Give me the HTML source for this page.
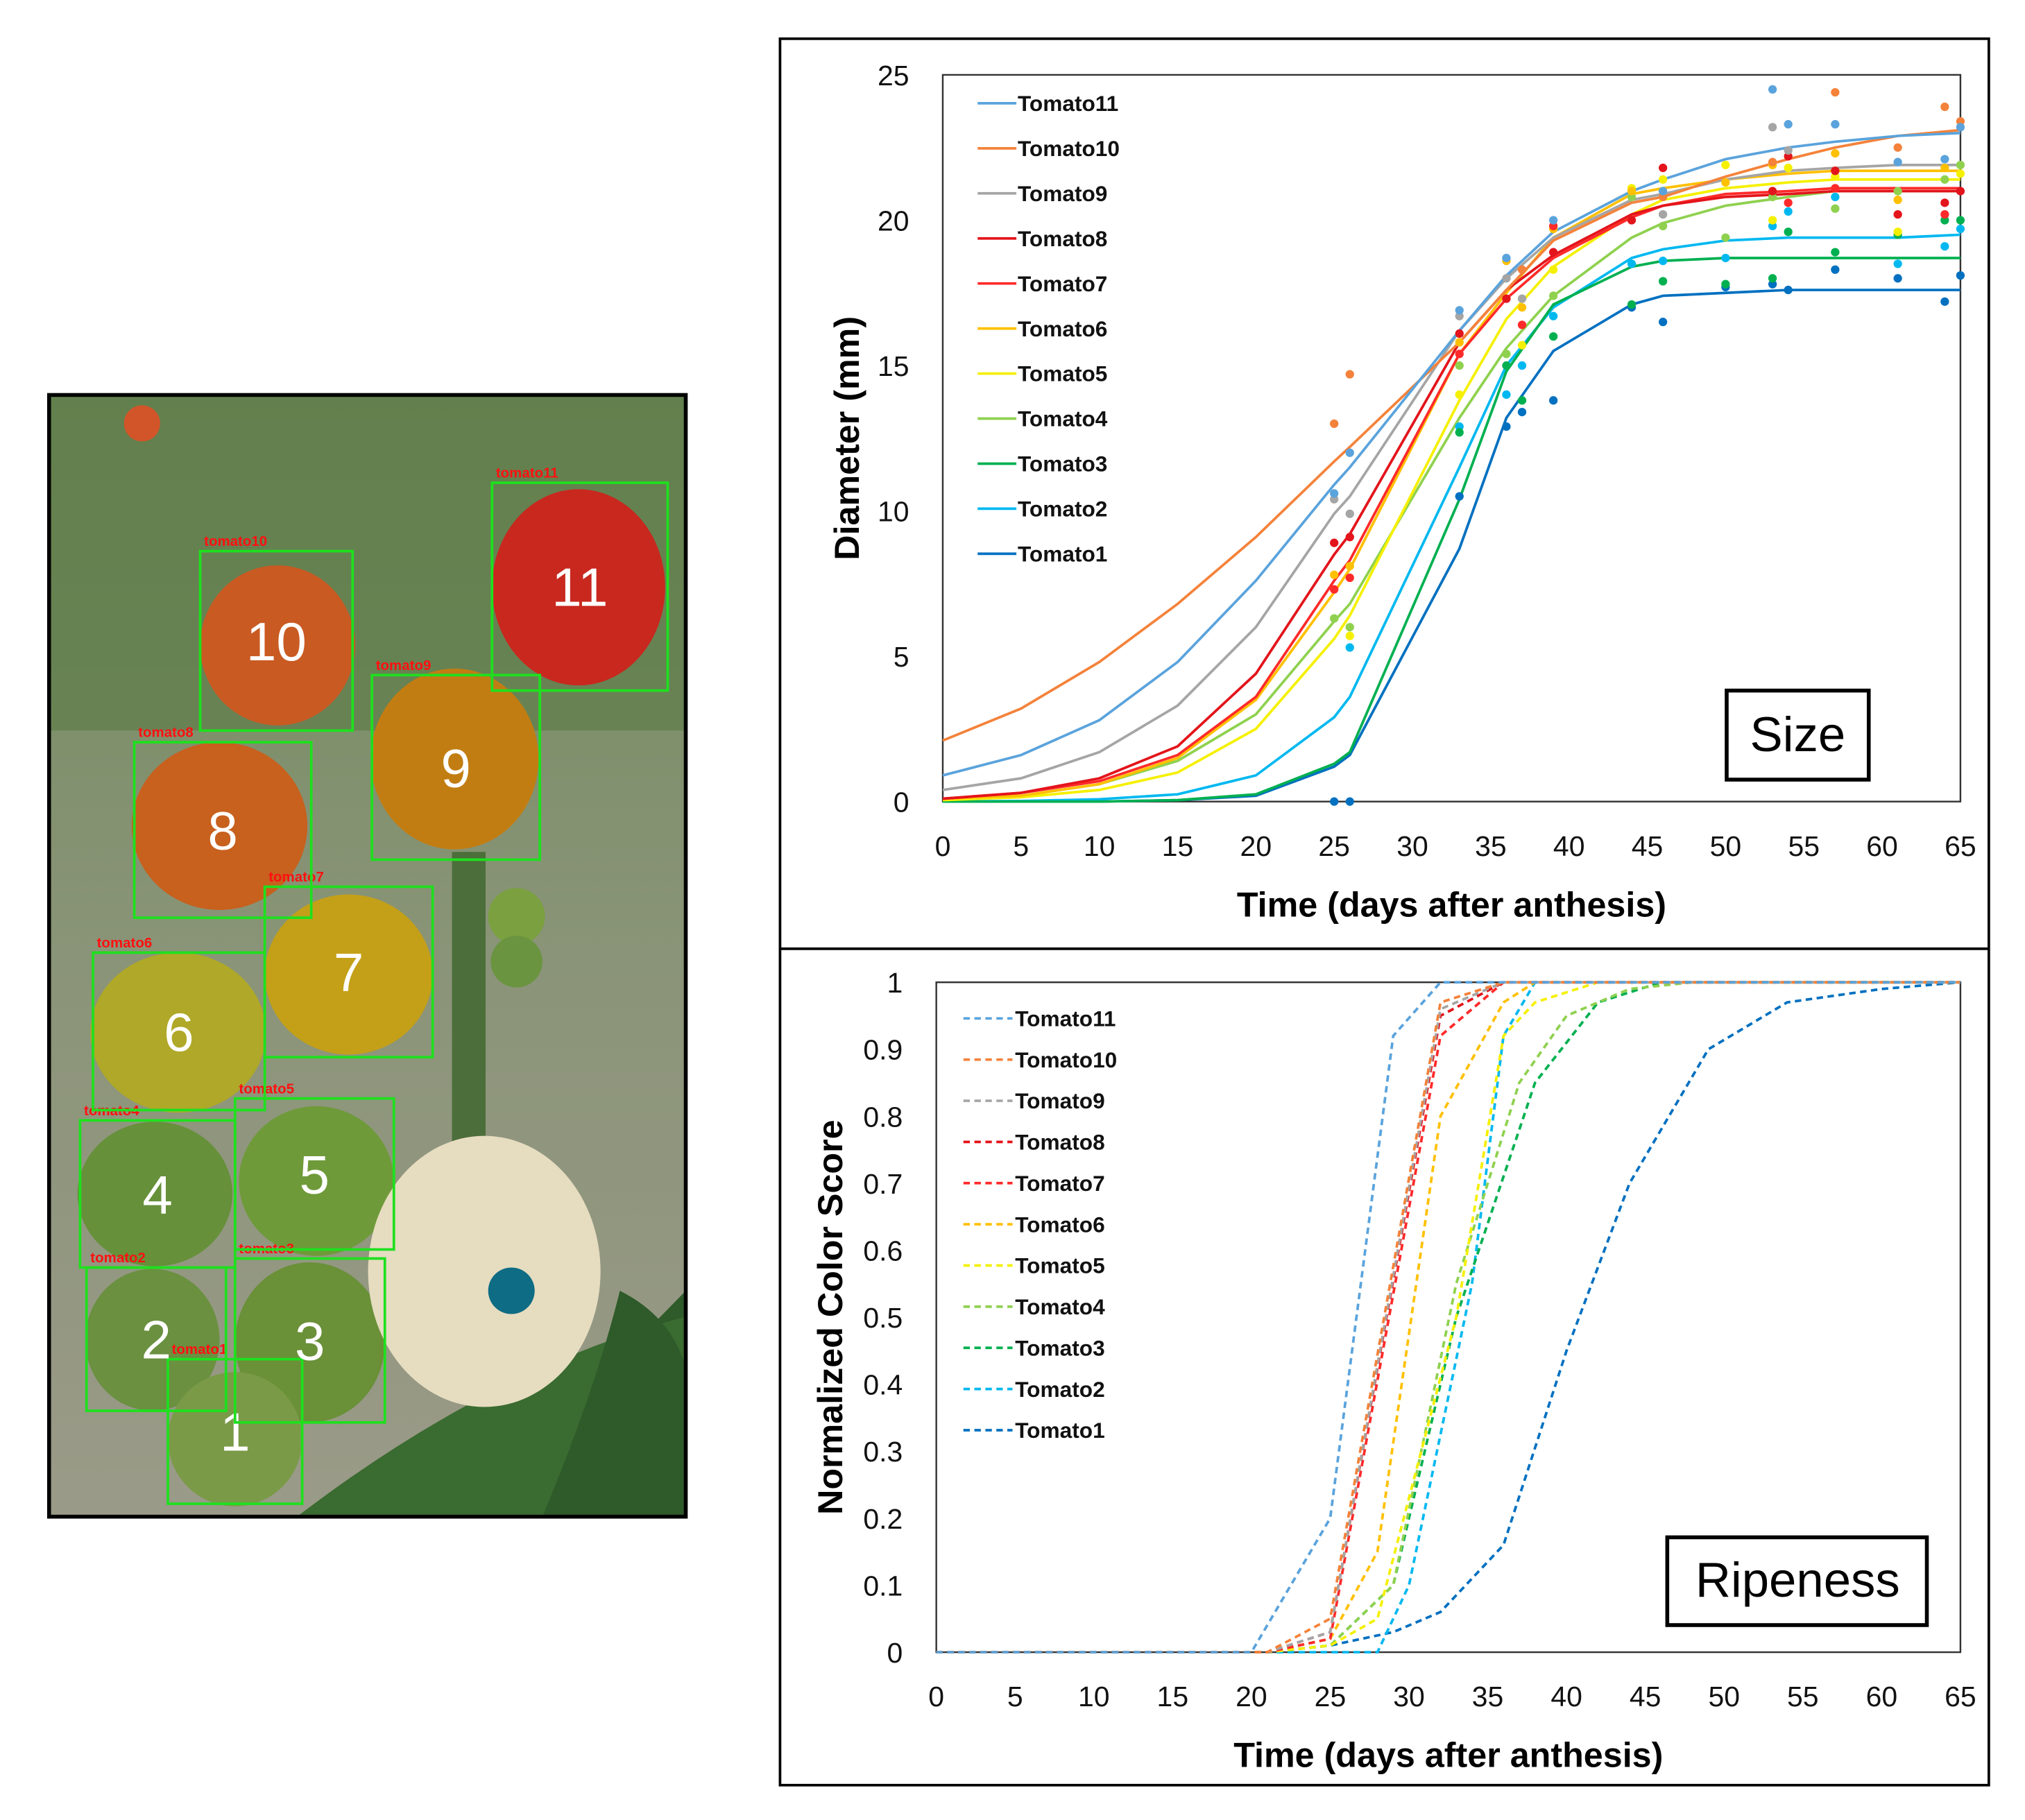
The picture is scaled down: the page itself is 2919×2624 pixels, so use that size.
<!DOCTYPE html>
<html><head><meta charset="utf-8"><style>
html,body{margin:0;padding:0;background:#fff;}
svg{display:block;font-family:"Liberation Sans",sans-serif;}
</style></head><body>
<svg id="fig" width="2919" height="2624" viewBox="0 0 1568 1410" preserveAspectRatio="none" xmlns="http://www.w3.org/2000/svg">
<defs>
<linearGradient id="bg" x1="0" y1="0" x2="0" y2="1">
<stop offset="0" stop-color="#6f8a5a"/><stop offset="0.5" stop-color="#8a9478"/><stop offset="1" stop-color="#9a9a88"/>
</linearGradient>
<clipPath id="photoclip"><rect x="38" y="306" width="493" height="869"/></clipPath>
</defs>
<g id="photo" clip-path="url(#photoclip)">
<rect x="38" y="306" width="493" height="869" fill="url(#bg)"/>
<rect x="38" y="306" width="493" height="260" fill="#5a7a45" opacity="0.6"/>
<path d="M360 1175 L531 1000 L531 1175 Z" fill="#2f5a2a"/>
<path d="M230 1175 Q380 1060 531 1020 L531 1175 Z" fill="#3a6b30"/>
<rect x="350" y="660" width="26" height="280" fill="#4c6e3a"/>
<circle cx="110" cy="328" r="14" fill="#d2552a"/>
<ellipse cx="448" cy="455" rx="67" ry="76" fill="#c8281e"/>
<ellipse cx="215" cy="500" rx="60" ry="62" fill="#c95a22"/>
<ellipse cx="352" cy="588" rx="65" ry="70" fill="#c27d12"/>
<ellipse cx="170" cy="640" rx="68" ry="65" fill="#c8601e"/>
<ellipse cx="270" cy="755" rx="65" ry="62" fill="#c4a018"/>
<ellipse cx="138" cy="800" rx="68" ry="62" fill="#b0a828"/>
<ellipse cx="245" cy="915" rx="60" ry="58" fill="#6f9a3a"/>
<ellipse cx="120" cy="925" rx="60" ry="56" fill="#66903a"/>
<ellipse cx="240" cy="1040" rx="58" ry="62" fill="#6a9038"/>
<ellipse cx="118" cy="1038" rx="52" ry="55" fill="#6a9040"/>
<ellipse cx="182" cy="1115" rx="52" ry="52" fill="#7a9a48"/>
<ellipse cx="400" cy="710" rx="22" ry="22" fill="#7aa040"/>
<ellipse cx="400" cy="745" rx="20" ry="20" fill="#6a9440"/>
<ellipse cx="375" cy="985" rx="90" ry="105" fill="#e6dcc0"/>
<circle cx="396" cy="1000" r="18" fill="#0e6c84"/>
<path d="M480 1000 Q520 1020 531 1060 L531 1175 L420 1175 Q460 1080 480 1000Z" fill="#2f5a2a"/>
</g>
<rect x="38" y="306" width="493" height="869" fill="none" stroke="#000" stroke-width="3"/>
<g id="boxes"></g>
<rect x="604" y="30" width="936" height="1353" fill="none" stroke="#000" stroke-width="2"/>
<line x1="604" y1="735" x2="1540" y2="735" stroke="#000" stroke-width="2"/>
<g id="size"></g>
<g id="ripe"></g>
</svg>
<script>
const NS="http://www.w3.org/2000/svg";
function mk(parent,tag,attrs,text){const e=document.createElementNS(NS,tag);for(const k in attrs)e.setAttribute(k,attrs[k]);if(text!==undefined)e.textContent=text;parent.appendChild(e);return e;}

const boxLabels=["1","2","3","4","5","6","7","8","9","10","11"];
const boxRects=[[130,1053,104,112],[67,982,108,111],[182,975,116,127],[62,868,120,114],[182,851,123,117],[72,738,133,122],[205,687,130,132],[104,575,137,136],[288,523,130,143],[155,427,118,139],[381,374,136,161]];
const bx=document.getElementById('boxes');
boxRects.forEach((r,i)=>{
 const rc=mk(bx,'rect',{x:r[0],y:r[1],width:r[2],height:r[3],fill:'none',stroke:'#1ee01e','stroke-width':2});
 
 
 const t=mk(bx,'text',{x:r[0]+r[2]/2,y:r[1]+r[3]/2+15,'text-anchor':'middle','font-size':42,fill:'#fff'},boxLabels[i]);
 
 
 const l=mk(bx,'text',{x:r[0]+3,y:r[1]-4,'font-size':11,'font-weight':'bold',fill:'#ff1010'},'tomato'+boxLabels[i]);
 
 
});

const names=["Tomato11","Tomato10","Tomato9","Tomato8","Tomato7","Tomato6","Tomato5","Tomato4","Tomato3","Tomato2","Tomato1"];
const colors=["#5aa3dc","#f4823a","#a5a5a5","#e3141b","#ff2a2a","#ffc000","#f5f000","#8fd14f","#00b050","#00b8f0","#0070c0"];
const xTicks=[0,5,10,15,20,25,30,35,40,45,50,55,60,65];

const sizeX=[0,5,10,15,20,25,26,33,36,39,44,46,50,54,57,61,65];
const size11=[0.9,1.6,2.8,4.8,7.6,10.9,11.5,16.2,18.1,19.6,21,21.4,22.1,22.5,22.7,22.9,23];
const size10=[2.1,3.2,4.8,6.8,9.1,11.7,12.2,15.8,17.6,19.3,20.6,20.8,21.5,22.1,22.5,22.9,23.1];
const size9=[0.4,0.8,1.7,3.3,6.0,9.9,10.5,16.2,18.0,19.4,20.7,20.9,21.4,21.7,21.8,21.9,21.9];
const size8=[0.1,0.3,0.8,1.9,4.4,8.5,9.2,15.8,17.6,18.8,20.2,20.5,20.8,20.9,21,21,21];
const size7=[0.1,0.3,0.7,1.6,3.6,7.6,8.3,15.4,17.3,18.7,20.1,20.5,20.9,21,21.1,21.1,21.1];
const size6=[0.1,0.2,0.6,1.5,3.5,7.2,8.0,15.4,17.5,19.4,20.9,21.1,21.4,21.6,21.7,21.7,21.7];
const size5=[0.05,0.15,0.4,1,2.5,5.6,6.4,13.8,16.6,18.4,20.2,20.7,21.1,21.3,21.4,21.4,21.4];
const size4=[0.1,0.2,0.6,1.4,3.0,6.2,6.8,13.2,15.6,17.4,19.4,19.9,20.5,20.8,21,21,21];
const size3=[0,0,0,0.05,0.25,1.3,1.7,10.4,14.8,17.1,18.4,18.6,18.7,18.7,18.7,18.7,18.7];
const size2=[0,0.02,0.08,0.25,0.9,2.9,3.6,11.5,15.0,17.0,18.7,19.0,19.3,19.4,19.4,19.4,19.5];
const size1=[0,0,0,0.05,0.2,1.2,1.6,8.7,13.2,15.5,17.1,17.4,17.5,17.6,17.6,17.6,17.6];
const sizeSeries=[size11,size10,size9,size8,size7,size6,size5,size4,size3,size2,size1];
const obs11=[[25,10.6],[26,12],[33,16.9],[36,18.7],[39,20],[46,21],[53,24.5],[54,23.3],[57,23.3],[61,22],[64,22.1],[65,23.2]];
const obs10=[[25,13],[26,14.7],[37,18.3],[46,20.8],[53,22],[57,24.4],[61,22.5],[64,23.9],[65,23.4]];
const obs9=[[25,10.4],[26,9.9],[33,16.7],[36,18],[37,17.3],[46,20.2],[53,23.2],[54,22.4]];
const obs8=[[25,8.9],[26,9.1],[33,16.1],[36,17.3],[39,18.9],[44,20],[46,21.8],[53,21],[54,22.2],[57,21.7],[61,20.2],[64,20.6],[65,21]];
const obs7=[[25,7.3],[26,7.7],[33,15.4],[37,16.4],[39,19.8],[54,20.6],[57,21.1],[64,20.2]];
const obs6=[[25,7.8],[26,8.1],[33,15.8],[36,18.6],[37,17],[39,19.7],[44,21],[50,21.3],[53,21.9],[57,22.3],[61,20.7],[64,21.8]];
const obs5=[[26,5.7],[33,14],[37,15.7],[39,18.3],[44,21.1],[46,21.4],[50,21.9],[53,20],[54,21.8],[57,21.5],[61,19.6],[65,21.6]];
const obs4=[[25,6.3],[26,6],[33,15],[36,15.4],[39,17.4],[44,20.8],[46,19.8],[50,19.4],[53,20.8],[57,20.4],[61,21],[64,21.4],[65,21.9]];
const obs3=[[33,12.7],[36,15],[37,13.8],[39,16],[44,17.1],[46,17.9],[50,17.8],[53,18],[54,19.6],[57,18.9],[61,19.5],[64,20],[65,20]];
const obs2=[[26,5.3],[33,12.9],[36,14],[37,15],[39,16.7],[44,18.5],[46,18.6],[50,18.7],[53,19.8],[54,20.3],[57,20.8],[61,18.5],[64,19.1],[65,19.7]];
const obs1=[[25,0],[26,0],[33,10.5],[36,12.9],[37,13.4],[39,13.8],[44,17],[46,16.5],[50,17.7],[53,17.8],[54,17.6],[57,18.3],[61,18],[64,17.2],[65,18.1]];
const obsSeries=[obs11,obs10,obs9,obs8,obs7,obs6,obs5,obs4,obs3,obs2,obs1];
const sizeYTicks=[0,5,10,15,20,25];

const r11x=[0,20,25,29,32,65], r11y=[0,0,0.2,0.92,1,1];
const r10x=[0,21,25,32,36,65], r10y=[0,0,0.05,0.97,1,1];
const r9x=[0,21,25,32,36,65], r9y=[0,0,0.03,0.96,1,1];
const r8x=[0,21,25,32,36,65], r8y=[0,0,0.03,0.95,1,1];
const r7x=[0,21,25,32,36,65], r7y=[0,0,0.02,0.92,1,1];
const r6x=[0,21,25,28,32,36,38,65], r6y=[0,0,0.02,0.15,0.8,0.97,1,1];
const r5x=[0,21,25,28,33,36,38,42,65], r5y=[0,0,0.01,0.05,0.5,0.92,0.97,1,1];
const r4x=[0,21,25,29,33,37,40,44,48,65], r4y=[0,0,0.01,0.1,0.55,0.85,0.95,0.99,1,1];
const r3x=[0,21,25,29,33,38,42,46,65], r3y=[0,0,0.01,0.1,0.5,0.85,0.97,1,1];
const r2x=[0,28,30,34,36,38,65], r2y=[0,0,0.1,0.55,0.92,1,1];
const r1x=[0,21,25,29,32,36,40,44,49,54,60,65], r1y=[0,0,0.01,0.03,0.06,0.16,0.45,0.7,0.9,0.97,0.99,1];
const ripeX=[r11x,r10x,r9x,r8x,r7x,r6x,r5x,r4x,r3x,r2x,r1x];
const ripeY=[r11y,r10y,r9y,r8y,r7y,r6y,r5y,r4y,r3y,r2y,r1y];
const ripeYTicks=[0,0.1,0.2,0.3,0.4,0.5,0.6,0.7,0.8,0.9,1];

function drawChart(g,cfg){
 const L=cfg.L,R=cfg.R,T=cfg.T,B=cfg.B;
 const sx=v=>L+(v-0)/65*(R-L);
 const sy=v=>B-(v-cfg.ymin)/(cfg.ymax-cfg.ymin)*(B-T);
 const frame=mk(g,'rect',{x:L,y:T,width:R-L,height:B-T,fill:'none',stroke:'#333','stroke-width':1.3});
 
 
 xTicks.forEach(v=>{const t=mk(g,'text',{x:sx(v),y:B+42,'text-anchor':'middle','font-size':22,fill:'#111'},String(v));
  
  });
 cfg.yTicks.forEach(v=>{const t=mk(g,'text',{x:L-26,y:sy(v)+8,'text-anchor':'end','font-size':22,fill:'#111'},String(v));
  
  });
 const xt=mk(g,'text',{x:(L+R)/2,y:B+89,'text-anchor':'middle','font-size':27,'font-weight':'bold',fill:'#000'},'Time (days after anthesis)');
 
 
 const yx=cfg.ytitleX, yy=(T+B)/2+cfg.ytitleDy;
 const yt=mk(g,'text',{x:yx,y:yy,'text-anchor':'middle','font-size':27,'font-weight':'bold',fill:'#000',transform:`rotate(-90 ${yx} ${yy})`},cfg.ytitle);
 
 
 return {sx,sy};
}

const gs=document.getElementById('size');
const S=drawChart(gs,{L:730,R:1518,T:58,B:621,ymin:0,ymax:25,yTicks:sizeYTicks,ytitle:'Diameter (mm)',ytitleX:665,ytitleDy:0});
for(let i=names.length-1;i>=0;i--){
 const pts=sizeSeries[i].map((v,j)=>S.sx(sizeX[j])+','+S.sy(v)).join(' ');
 const pl=mk(gs,'polyline',{points:pts,fill:'none',stroke:colors[i],'stroke-width':2});
 
 
}
for(let i=names.length-1;i>=0;i--){
 obsSeries[i].forEach(p=>{const c=mk(gs,'circle',{cx:S.sx(p[0]),cy:S.sy(p[1]),r:3.3,fill:colors[i]});
  
  });
}
names.forEach((n,i)=>{const y=80+i*34.9;
 const ln=mk(gs,'line',{x1:757,y1:y,x2:787,y2:y,stroke:colors[i],'stroke-width':2});
 
 
 const t=mk(gs,'text',{x:788,y:y+6,'font-size':17,'font-weight':'bold',fill:'#111'},n);
 
 });
const sb=mk(gs,'rect',{x:1337,y:535,width:110,height:69,fill:'#fff',stroke:'#000','stroke-width':3});


const st=mk(gs,'text',{x:1392,y:582,'text-anchor':'middle','font-size':38,fill:'#000'},'Size');



const gr=document.getElementById('ripe');
const Rr=drawChart(gr,{L:725,R:1518,T:761,B:1280,ymin:0,ymax:1,yTicks:ripeYTicks,ytitle:'Normalized Color Score',ytitleX:652,ytitleDy:0});
for(let i=names.length-1;i>=0;i--){
 const pts=ripeY[i].map((v,j)=>Rr.sx(ripeX[i][j])+','+Rr.sy(v)).join(' ');
 const pl=mk(gr,'polyline',{points:pts,fill:'none',stroke:colors[i],'stroke-width':2,'stroke-dasharray':'5 3.5'});
 
 
}
names.forEach((n,i)=>{const y=789+i*31.9;
 const ln=mk(gr,'line',{x1:746,y1:y,x2:784,y2:y,stroke:colors[i],'stroke-width':2,'stroke-dasharray':'5 3.5'});
 
 
 const t=mk(gr,'text',{x:786,y:y+6,'font-size':17,'font-weight':'bold',fill:'#111'},n);
 
 });
const rb=mk(gr,'rect',{x:1291,y:1191,width:201,height:68,fill:'#fff',stroke:'#000','stroke-width':3});


const rt=mk(gr,'text',{x:1392,y:1237,'text-anchor':'middle','font-size':38,fill:'#000'},'Ripeness');


</script>
</body></html>
